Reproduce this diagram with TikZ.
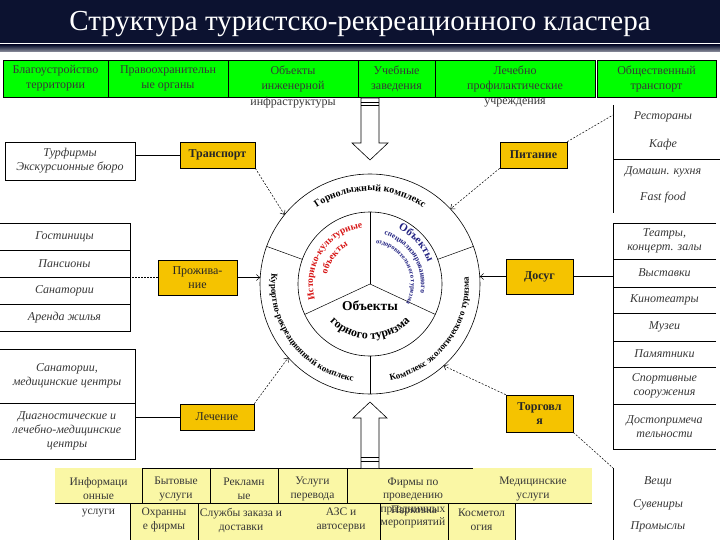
\documentclass[tikz,border=0pt]{standalone}
\usepackage{fontspec}
\setmainfont{Liberation Serif}
\usetikzlibrary{arrows.meta,decorations.text,calc}
\definecolor{navy}{RGB}{12,18,48}
\definecolor{gbox}{RGB}{0,255,0}
\definecolor{obox}{RGB}{245,195,0}
\definecolor{ybox}{RGB}{250,247,165}
\definecolor{txt}{RGB}{55,55,55}
\definecolor{redt}{RGB}{215,20,20}
\definecolor{bluet}{RGB}{35,35,130}
\begin{document}
\begin{tikzpicture}[x=1pt,y=1pt,
  gcell/.style={draw, fill=gbox, line width=0.5pt, inner sep=0pt, align=center, text=txt, font=\fontsize{12}{15}\selectfont},
  ocell/.style={draw, fill=obox, line width=0.6pt, inner sep=0pt, align=center, text=black!85, font=\fontsize{12}{14}\selectfont\bfseries},
  lcell/.style={draw, line width=0.5pt, inner sep=0pt, align=center, text=txt, font=\fontsize{12}{14}\selectfont\itshape},
  ltext/.style={inner sep=0pt, align=center, text=txt, font=\fontsize{12}{14}\selectfont\itshape},
  ytext/.style={inner sep=0pt, align=center, text=txt, font=\fontsize{11.5}{14}\selectfont},
  conn/.style={line width=0.5pt},
  dconn/.style={line width=0.5pt, dash pattern=on 2pt off 1.5pt},
  arr/.style={-{Straight Barb[length=3.5pt,width=6pt]}},
  ctext/.style={decorate, decoration={text along path, text align=center}}
]
\useasboundingbox (0,0) rectangle (720,-540);
\fill[white] (0,0) rectangle (720,-540);

% ---- title band
\fill[navy] (0,0) rectangle (720,-43);
\shade[top color=navy, bottom color=navy!45!white] (0,-45) rectangle (720,-52);
\node[text=white, font=\fontsize{29}{31}\selectfont] (title) at (360,-24) {Структура туристско-рекреационного кластера};

% ---- green row
\node[gcell, minimum width=105pt, minimum height=37pt] (g1) at (55.5,-78.5) {Благоустройство\\территории};
\node[gcell, minimum width=120pt, minimum height=37pt] (g2) at (168,-78.5) {Правоохранительн\\ые органы};
\node[gcell, minimum width=130pt, minimum height=37pt] (g3) at (293,-78.5) {Объекты\\инженерной};
\node[ytext, font=\fontsize{12}{15}\selectfont] (g3x) at (293,-103) {инфраструктуры};
\node[gcell, minimum width=77pt, minimum height=37pt] (g4) at (396.5,-78.5) {Учебные\\заведения};
\node[gcell, minimum width=160pt, minimum height=37pt] (g5) at (515,-78.5) {Лечебно\\профилактические};
\node[ytext, font=\fontsize{12}{15}\selectfont] (g5x) at (515,-103) {учреждения};
\node[gcell, minimum width=119pt, minimum height=37pt] (g6) at (656.5,-78.5) {Общественный\\транспорт};

% ---- top block arrow
\draw[line width=0.6pt, fill=white] (361,-98) -- (379,-98) -- (379,-143) -- (388,-143) -- (370,-160) -- (352,-143) -- (361,-143) -- cycle;
\draw[line width=0.6pt] (361,-102) -- (379,-102) (361,-105.5) -- (379,-105.5);

% ---- circle
\coordinate (C) at (370,-284);
\draw[line width=0.6pt] (C) circle[radius=110];
\draw[line width=0.6pt] (C) circle[radius=72];
\foreach \a in {160,20,270} \draw[line width=0.5pt] ($(C)+(\a:72)$) -- ($(C)+(\a:110)$);
\foreach \a in {90,205,335} \draw[line width=0.5pt] (C) -- ($(C)+(\a:72)$);

% ring texts
\path[ctext, decoration={text={|\fontsize{10}{10}\selectfont\bfseries|Горнолыжный комплекс}}]
  ($(C)+(165:93)$) arc[start angle=165, end angle=15, radius=93];
\path[ctext, decoration={text={|\fontsize{9}{9}\selectfont\bfseries|Курортно-рекреационный комплекс}}]
  ($(C)+(166:99)$) arc[start angle=166, end angle=268, radius=99];
\path[ctext, decoration={text={|\fontsize{9}{9}\selectfont\bfseries|Комплекс экологического туризма}}]
  ($(C)+(272:99)$) arc[start angle=272, end angle=374, radius=99];

% inner texts
\path[ctext, decoration={text color=redt, text={|\fontsize{9.5}{9}\selectfont\bfseries|Историко-культурные}}]
  ($(C)+(202:57)$) arc[start angle=202, end angle=91, radius=57];
\path[ctext, decoration={text color=redt, text={|\fontsize{9.5}{9}\selectfont\bfseries|объекты}}]
  ($(C)+(175:44)$) arc[start angle=175, end angle=112, radius=44];
\path[ctext, decoration={text color=bluet, text={|\fontsize{11}{10}\selectfont\bfseries|Объекты}}]
  ($(C)+(82:62)$) arc[start angle=82, end angle=2, radius=62];
\path[ctext, decoration={text color=bluet, text={|\fontsize{7.5}{7}\selectfont\bfseries|специализированного}}]
  ($(C)+(88:51)$) arc[start angle=88, end angle=-24, radius=51];
\path[ctext, decoration={text color=bluet, text={|\fontsize{6.5}{6}\selectfont\bfseries|оздоровительного туризма}}]
  ($(C)+(86:41)$) arc[start angle=86, end angle=-32, radius=41];
\node[inner sep=0pt, font=\fontsize{13.5}{14}\selectfont\bfseries] (obt) at (370,-306) {Объекты};
\path[ctext, decoration={text={|\fontsize{12}{10}\selectfont\bfseries|горного туризма}}]
  ($(C)+(220:55)$) arc[start angle=220, end angle=320, radius=55];

% circle attachment points
\coordinate (pT) at ($(C)+(141:110)$);
\coordinate (pP) at (260.2,-277.5);
\coordinate (pL) at ($(C)+(222:110)$);
\coordinate (pF) at ($(C)+(43:110)$);
\coordinate (pD) at (479.8,-276.5);
\coordinate (pR) at ($(C)+(312:110)$);

% ---- left side
\node[lcell, minimum width=130pt, minimum height=38pt] (turf) at (70,-161) {Турфирмы\\Экскурсионные бюро};
\node[ocell, minimum width=75pt, minimum height=26pt] (transp) at (217.5,-155) {Транспорт};
\draw[conn] (transp.west) -- (transp.west -| turf.east);
\draw[dconn,arr] (transp.south east) -- (pT);

\node[lcell, minimum width=131pt, minimum height=27pt] (a1) at (64.5,-236.5) {Гостиницы};
\node[lcell, minimum width=131pt, minimum height=27pt] (a2) at (64.5,-263.5) {Пансионы};
\node[lcell, minimum width=131pt, minimum height=27pt] (a3) at (64.5,-290.5) {Санатории};
\node[lcell, minimum width=131pt, minimum height=27pt] (a4) at (64.5,-317.5) {Аренда жилья};
\node[ocell, font=\fontsize{12}{14}\selectfont, minimum width=79pt, minimum height=35pt] (prozh) at (197.5,-277.5) {Прожива-\\ние};
\draw[conn, densely dotted] (prozh.west) -- (prozh.west -| a3.east);
\draw[conn,arr] (prozh.east) -- (pP);

\node[lcell, minimum width=136pt, minimum height=54pt] (l1) at (67,-376) {Санатории,\\медицинские центры};
\node[lcell, minimum width=136pt, minimum height=56pt] (l2) at (67,-431) {Диагностические и\\лечебно-медицинские\\центры};
\node[ocell, font=\fontsize{12}{14}\selectfont, minimum width=74pt, minimum height=26pt] (lech) at (217,-417) {Лечение};
\draw[conn] (lech.west) -- (lech.west -| l2.east);
\draw[dconn,arr] (lech.north east) -- (pL);

% ---- right side: food
\node[ocell, minimum width=67pt, minimum height=26pt] (pit) at (533.5,-155) {Питание};
\coordinate (fTop) at (613,-115);
\draw[dconn] (pit.north east) -- (fTop);
\draw[dconn,arr] (pit.south west) -- (pF);
\draw[conn] (613,-105) -- (613,-213);
\draw[conn] (613,-159) -- (720,-159);
\node[ltext] (f1) at (663,-117) {Рестораны};
\node[ltext] (f2) at (663,-145) {Кафе};
\node[ltext] (f3) at (663,-172) {Домашн. кухня};
\node[ltext] (f4) at (663,-198) {Fast food};

% ---- right side: leisure
\node[ocell, minimum width=67pt, minimum height=35pt] (dosug) at (539.5,-276.5) {Досуг};
\node[ltext, minimum width=103pt, minimum height=36pt] (d1) at (664.5,-241) {Театры,\\концерт. залы};
\node[ltext, minimum width=103pt, minimum height=28pt] (d2) at (664.5,-273) {Выставки};
\node[ltext, minimum width=103pt, minimum height=26pt] (d3) at (664.5,-300) {Кинотеатры};
\node[ltext, minimum width=103pt, minimum height=28pt] (d4) at (664.5,-327) {Музеи};
\node[ltext, minimum width=103pt, minimum height=26pt] (d5) at (664.5,-354) {Памятники};
\node[ltext, minimum width=103pt, minimum height=37pt] (d6) at (664.5,-385.5) {Спортивные\\сооружения};
\node[ltext, minimum width=103pt, minimum height=45pt] (d7) at (664.5,-426.5) {Достопримеча\\тельности};
\foreach \n in {d1,d2,d3,d4,d5,d6,d7}
  \draw[conn] (\n.north east) -- (\n.north west) -- (\n.south west) -- (\n.south east);
\draw[conn] (dosug.east) -- (dosug.east -| d1.west);
\draw[conn,arr] (dosug.west) -- (pD);

% ---- right side: trade
\node[ocell, minimum width=67pt, minimum height=37pt] (torg) at (539.5,-413.5) {Торговл\\я};
\coordinate (sTop) at (613,-468);
\draw[dconn] (torg.south east) -- (sTop);
\draw[dconn,arr] (torg.north west) -- (pR);
\draw[conn] (sTop) -- (613,-541);
\node[ltext] (s1) at (658,-482) {Вещи};
\node[ltext] (s2) at (658,-505) {Сувениры};
\node[ltext] (s3) at (658,-527) {Промыслы};

% ---- bottom yellow block
\fill[ybox] (55,-468) rectangle (592,-503);
\fill[ybox] (130,-503) rectangle (515,-541);
\draw[conn] (55,-503) -- (592,-503);
\draw[conn] (142,-468) -- (473,-468);
\foreach \xx in {142,210,278,347} \draw[conn] (\xx,-468) -- (\xx,-503);
\foreach \xx in {130,198,380,448,515} \draw[conn] (\xx,-503) -- (\xx,-541);
\node[ytext, font=\fontsize{11.5}{14.5}\selectfont] (b1) at (98.5,-497) {Информаци\\онные\\услуги};
\node[ytext] (b2) at (176,-489) {Бытовые\\услуги};
\node[ytext] (b3) at (244,-489) {Рекламн\\ые};
\node[ytext] (b4) at (312.5,-489) {Услуги\\перевода};
\node[ytext, font=\fontsize{11.5}{13.5}\selectfont] (b5) at (413,-503) {Фирмы по\\проведению\\праздничных\\мероприятий};
\node[ytext] (b6) at (533,-489) {Медицинские\\услуги};
\node[ytext] (r1) at (164,-520) {Охранны\\е фирмы};
\node[ytext] (r2) at (241,-520) {Службы заказа и\\доставки};
\node[ytext] (r3) at (341,-520) {АЗС и\\автосерви};
\node[ytext] (r4) at (414,-511) {Парковка};
\node[ytext] (r5) at (481.5,-520) {Косметол\\огия};

% ---- bottom block arrow
\draw[line width=0.6pt, fill=white] (361,-468) -- (361,-418) -- (353,-418) -- (370,-402) -- (387,-418) -- (379,-418) -- (379,-468);
\draw[line width=0.6pt] (361,-457) -- (379,-457) (361,-461) -- (379,-461);
\end{tikzpicture}
\end{document}
